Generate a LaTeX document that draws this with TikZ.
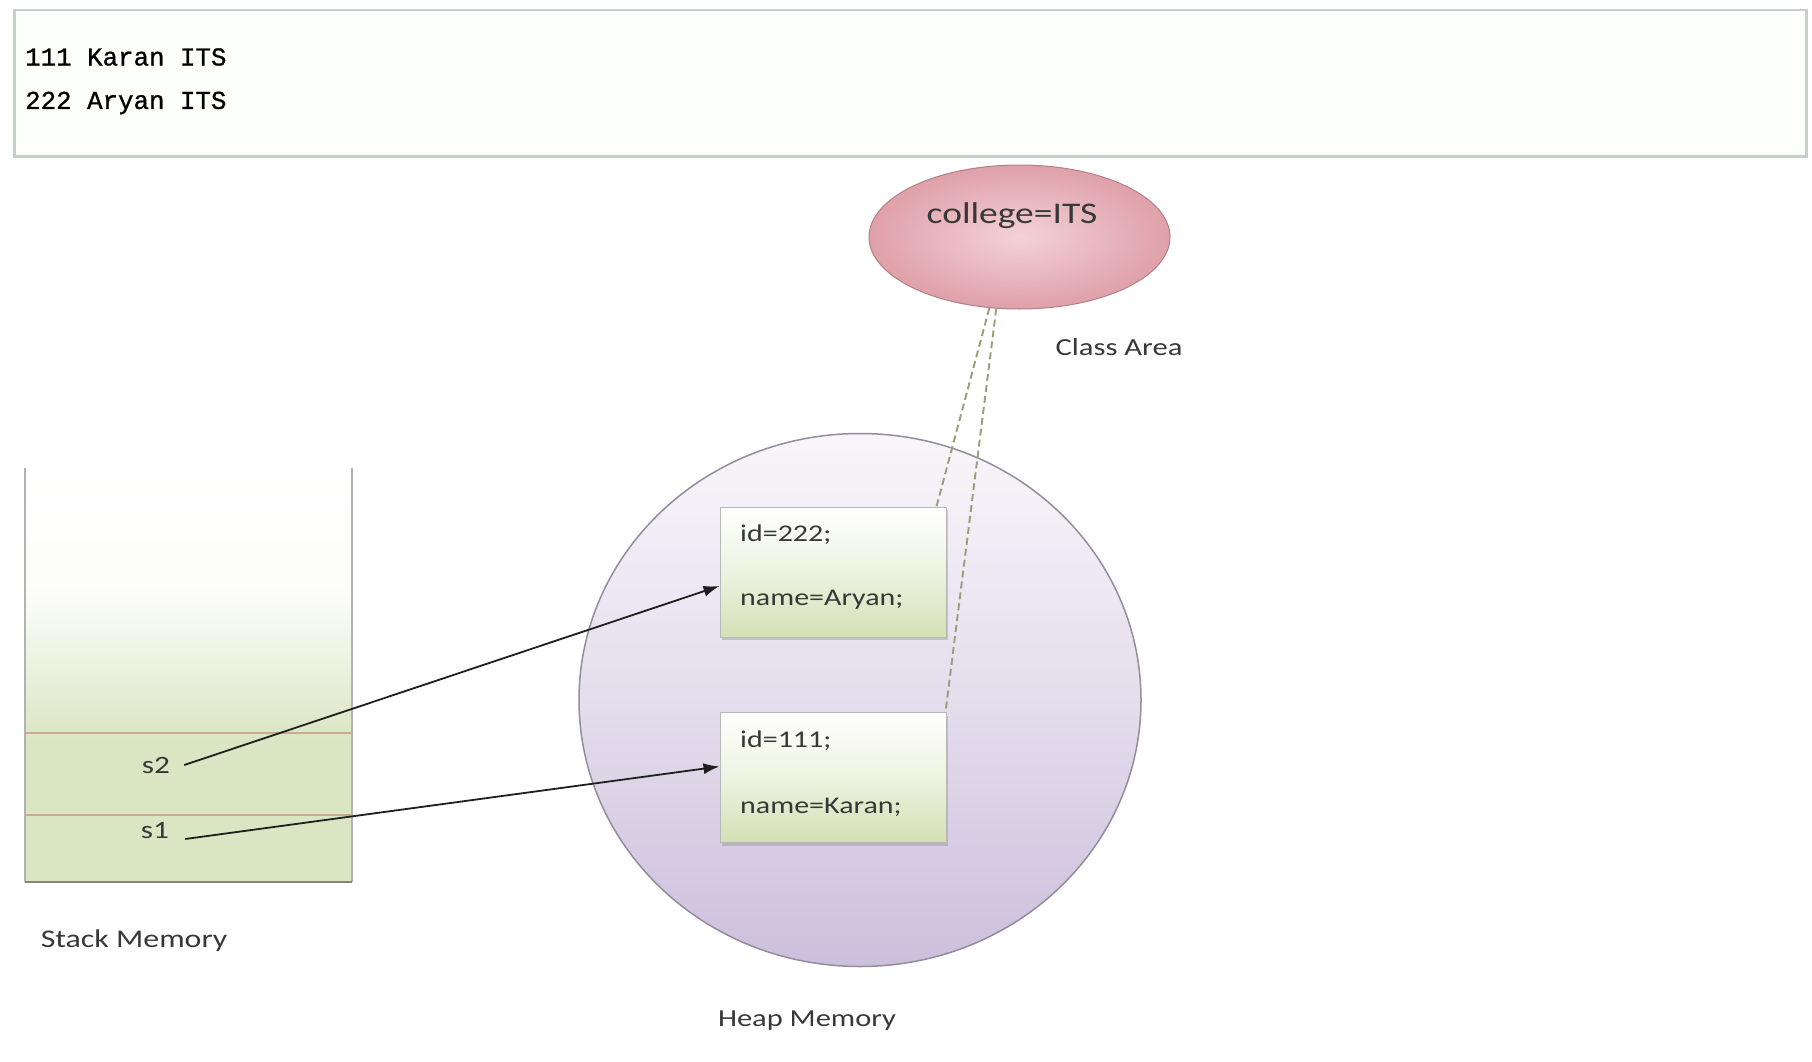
\documentclass[tikz,border=0pt]{standalone}
\usepackage{fontspec}
\usetikzlibrary{shapes.geometric,arrows.meta,shadows}
\newfontfamily\calib[FakeStretch=1.25]{Carlito}
\newfontfamily\monof[FakeBold=0.9]{Liberation Mono}
\definecolor{txt}{HTML}{383838}
\definecolor{sgreen}{HTML}{DAE5C3}
\definecolor{bgreen}{HTML}{D3E0B4}
\definecolor{pinkd}{HTML}{DFA0A9}
\definecolor{pinkl}{HTML}{F3D2D6}
\definecolor{heapt}{HTML}{F8F6FA}
\definecolor{heapb}{HTML}{CCBFDC}
\definecolor{dashc}{HTML}{9C9C78}
\definecolor{redl}{HTML}{CDA98F}
\pgfdeclareverticalshading{stackshade}{100bp}{color(0bp)=(sgreen); color(25bp)=(sgreen); color(42bp)=(sgreen); color(60bp)=(white!93!sgreen); color(75bp)=(white); color(100bp)=(white)}
\begin{document}
\begin{tikzpicture}[x=1pt,y=-1pt,
  lbl/.style={font=\calib\fontsize{25}{30}\selectfont, text=txt, inner sep=0pt},
  boxtxt/.style={font=\calib\fontsize{24}{28}\selectfont, text=txt, inner sep=0pt, anchor=west},
  codetxt/.style={font=\monof\fontsize{25.8}{30}\selectfont, text=black, inner sep=0pt, anchor=west},
  objbox/.style={rectangle, minimum width=226pt, minimum height=130pt, draw=black!28, line width=1pt,
    top color=white, bottom color=bgreen, middle color=white!60!bgreen,
    drop shadow={opacity=0.35, shadow xshift=2pt, shadow yshift=-3pt}},
  ptr/.style={draw=black!88, line width=1.8pt, -{Latex[length=16pt,width=11pt]}},
  dashln/.style={draw=dashc, line width=1.9pt, dash pattern=on 7pt off 4pt}
]
\useasboundingbox (0,0) rectangle (1812,1062);
\fill[white] (0,0) rectangle (1812,1062);

% output box
\node[rectangle, draw=black!8!green!10!gray!40, fill=black!2!green!1!white, line width=2.5pt,
      minimum width=1792pt, minimum height=146pt, anchor=north west] (out) at (13,9) {};
\node[codetxt] (l1) at (25,57) {111 Karan ITS};
\node[codetxt] (l2) at (25,103) {222 Aryan ITS};

% stack
\node[rectangle, minimum width=327pt, minimum height=414pt, inner sep=0pt, shading=stackshade] (stack) at (188.5,675) {};
\draw[black!30, line width=1.5pt] (stack.north west) -- (stack.south west);
\draw[black!30, line width=1.5pt] (stack.north east) -- (stack.south east);
\draw[black!40!sgreen, line width=2.5pt] (stack.south west) -- (stack.south east);
\coordinate (r2w) at (25,733); \coordinate (r2e) at (352,733);
\coordinate (r1w) at (25,815); \coordinate (r1e) at (352,815);
\draw[redl, line width=1.5pt] (r2w) -- (r2e);
\draw[redl, line width=1.5pt] (r1w) -- (r1e);
\node[lbl] (s2) at (156,765) {s2};
\node[lbl] (s1) at (155,831) {s1};
\node[lbl, font=\calib\fontsize{25.5}{30}\selectfont] (stackl) at (134,941) {Stack Memory};

% heap
\node[ellipse, minimum width=562pt, minimum height=533pt, draw=black!25!heapb!80!gray, line width=1.5pt,
      top color=heapt, bottom color=heapb, middle color=heapt!55!heapb] (heap) at (860,700) {};
\node[lbl, font=\calib\fontsize{24.4}{30}\selectfont] (heapl) at (807,1021) {Heap Memory};

% objects
\node[objbox] (box1) at (833,572) {};
\node[objbox] (box2) at (833,777.5) {};
\node[boxtxt] (b1a) at (740,535) {id=222;};
\node[boxtxt] (b1b) at (740,600) {name=Aryan;};
\node[boxtxt] (b2a) at (740,741) {id=111;};
\node[boxtxt] (b2b) at (740,807) {name=Karan;};

% class area
\node[ellipse, minimum width=301pt, minimum height=144pt, draw=pinkd!80!black, line width=1pt,
      inner color=pinkl, outer color=pinkd] (college) at (1019.5,237) {};
\node[lbl, font=\calib\fontsize{30}{34}\selectfont] (collegel) at (1012,216) {college=ITS};
\node[lbl, font=\calib\fontsize{24.5}{30}\selectfont] (classl) at (1119,347) {Class Area};

% connectors
\draw[dashln] (college.247) -- ([xshift=-10pt]box1.north east);
\draw[dashln] (college.252) -- ([xshift=-1pt]box2.north east);
\draw[ptr] ([xshift=14pt]s2.east) -- ([yshift=-14pt]box1.west);
\draw[ptr] ([xshift=16pt,yshift=-8pt]s1.east) -- ([yshift=11pt]box2.west);
\end{tikzpicture}
\end{document}
